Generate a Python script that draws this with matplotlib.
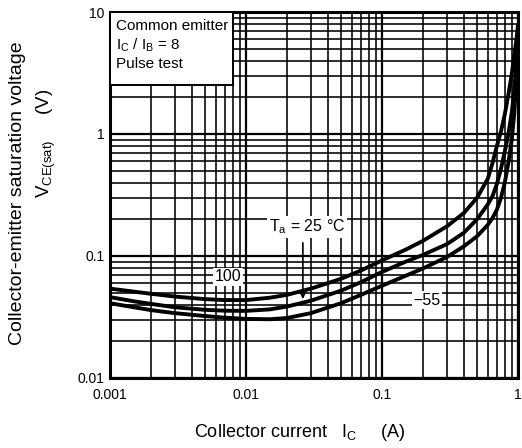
import matplotlib
matplotlib.use('Agg')
import matplotlib.pyplot as plt
from matplotlib.patches import Rectangle

plt.rcParams['font.family'] = ['Liberation Sans', 'DejaVu Sans']
plt.rcParams['mathtext.fontset'] = 'custom'
plt.rcParams['mathtext.rm'] = 'Liberation Sans'
plt.rcParams['mathtext.it'] = 'Liberation Sans'

# curves (Ic in A, Vce(sat) in V)
ic_100 = [0.001, 0.0015, 0.002, 0.003, 0.005, 0.007, 0.01, 0.015, 0.02, 0.03, 0.05, 0.07,
          0.1, 0.15, 0.2, 0.3, 0.4, 0.5, 0.6, 0.65, 0.7, 0.75, 0.8, 0.85, 0.9, 0.95, 0.98, 1.0]
v_100 = [0.054, 0.051, 0.049, 0.0465, 0.0443, 0.0435, 0.0435, 0.0455, 0.048, 0.054, 0.065, 0.076,
         0.092, 0.113, 0.133, 0.175, 0.225, 0.30, 0.43, 0.58, 0.8, 1.05, 1.45, 2.1, 3.1, 4.8, 6.3, 7.8]

ic_25 = [0.001, 0.0015, 0.002, 0.003, 0.005, 0.007, 0.01, 0.015, 0.02, 0.03, 0.05, 0.07,
         0.1, 0.15, 0.2, 0.3, 0.4, 0.5, 0.6, 0.65, 0.7, 0.75, 0.8, 0.85, 0.9, 0.94, 0.97, 1.0]
v_25 = [0.046, 0.0425, 0.0405, 0.038, 0.0362, 0.0356, 0.0355, 0.0365, 0.0385, 0.043, 0.052, 0.061,
        0.074, 0.09, 0.102, 0.125, 0.155, 0.2, 0.265, 0.31, 0.39, 0.52, 0.72, 1.0, 1.5, 2.3, 3.6, 7.0]

ic_m55 = [0.001, 0.0015, 0.002, 0.003, 0.005, 0.007, 0.01, 0.015, 0.02, 0.03, 0.05, 0.07,
          0.1, 0.15, 0.2, 0.3, 0.4, 0.5, 0.6, 0.65, 0.7, 0.75, 0.8, 0.85, 0.9, 0.94, 0.97, 1.0]
v_m55 = [0.041, 0.038, 0.036, 0.034, 0.0322, 0.0312, 0.0305, 0.0303, 0.031, 0.034, 0.041, 0.048,
         0.057, 0.069, 0.079, 0.098, 0.12, 0.145, 0.18, 0.205, 0.24, 0.3, 0.4, 0.58, 0.9, 1.5, 2.7, 6.5]

x_ticks = [0.001, 0.01, 0.1, 1]
x_ticklabels = ['0.001', '0.01', '0.1', '1']
y_ticks = [0.01, 0.1, 1, 10]
y_ticklabels = ['0.01', '0.1', '1', '10']

fig = plt.figure(figsize=(5.22, 4.48), dpi=100)
ax = fig.add_axes([0.2107, 0.1563, 0.7816, 0.8169])

ax.set_xscale('log')
ax.set_yscale('log')
ax.set_xlim(0.001, 1)
ax.set_ylim(0.01, 10)

ax.grid(which='major', color='black', lw=1.6)
ax.grid(which='minor', color='black', lw=1.15)
ax.set_axisbelow(True)

for xs, ys in [(ic_100, v_100), (ic_25, v_25), (ic_m55, v_m55)]:
    ax.plot(xs, ys, color='black', lw=2.8, solid_capstyle='round',
            solid_joinstyle='round', zorder=3)

ax.set_xticks(x_ticks)
ax.set_xticklabels(x_ticklabels)
ax.set_yticks(y_ticks)
ax.set_yticklabels(y_ticklabels)
ax.tick_params(which='both', length=0, labelsize=10)
ax.tick_params(axis='x', pad=7)
ax.tick_params(axis='y', pad=4)
for s in ax.spines.values():
    s.set_linewidth(2.2)

# condition box
ax.add_patch(Rectangle((0, 0.80), 0.301, 0.20, transform=ax.transAxes,
                       facecolor='white', edgecolor='black', lw=1.4, zorder=5))
ax.text(0.014, 0.982, 'Common emitter\n$\\mathrm{I_C}$ / $\\mathrm{I_B}$ = 8\nPulse test',
        transform=ax.transAxes, ha='left', va='top', fontsize=11, linespacing=1.3,
        zorder=6)

# curve labels
ax.text(0.00738, 0.0673, '100', ha='center', va='center', fontsize=11.5,
        bbox=dict(boxstyle='square,pad=0.1', facecolor='white', edgecolor='none'), zorder=4)
ax.text(0.214, 0.0435, '\u221255', ha='center', va='center', fontsize=11.5,
        bbox=dict(boxstyle='square,pad=0.1', facecolor='white', edgecolor='none'), zorder=4)
ax.text(0.0281, 0.173, '$\\mathrm{T_a}$ = 25 \u00b0C', ha='center', va='center', fontsize=11.5,
        bbox=dict(boxstyle='square,pad=0.1', facecolor='white', edgecolor='none'), zorder=4)
ax.annotate('', xy=(0.0262, 0.042), xytext=(0.0262, 0.135),
            arrowprops=dict(arrowstyle='->', color='black', lw=1.2), zorder=4)

fig.text(0.5747, 0.035, 'Collector current   $\\mathrm{I_C}$     (A)', ha='center', va='center',
         fontsize=13)
fig.text(0.034, 0.569, 'Collector-emitter saturation voltage', rotation=90,
         ha='center', va='center', fontsize=14)
fig.text(0.088, 0.68, '$\\mathrm{V_{CE(sat)}}$     (V)', rotation=90,
         ha='center', va='center', fontsize=13.5)

fig.savefig('out.png', dpi=100)
